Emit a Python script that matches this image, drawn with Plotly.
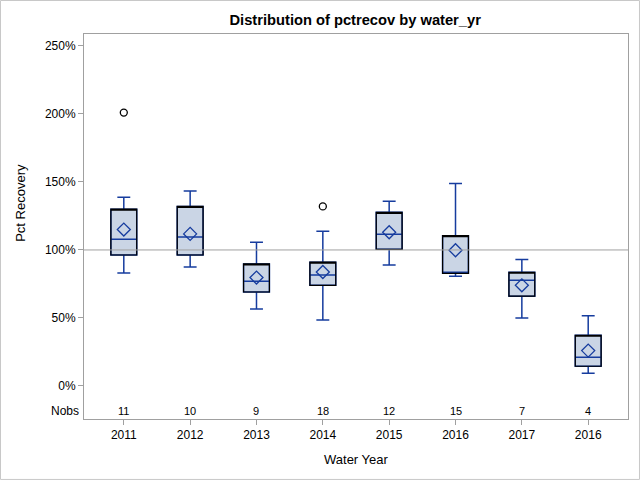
import plotly.graph_objects as go

# Data
year_labels = ["2011", "2012", "2013", "2014", "2015", "2016", "2017", "2016"]
nobs = [11, 10, 9, 18, 12, 15, 7, 4]
whisker_low = [83.0, 87.5, 56.5, 48.5, 89.0, 80.6, 50.0, 9.3]
q1 = [96.3, 96.3, 69.1, 74.0, 100.5, 82.8, 66.0, 14.5]
median = [107.8, 109.6, 77.0, 81.6, 111.5, 82.8, 77.7, 21.1]
q3 = [130.0, 132.0, 89.7, 91.0, 127.7, 110.5, 83.6, 37.3]
whisker_high = [138.7, 143.4, 105.6, 113.7, 135.8, 148.8, 92.9, 51.7]
means = [115.0, 111.8, 79.7, 83.8, 113.0, 99.8, 74.0, 26.0]
outlier_idx = [0, 3]
outlier_vals = [201.0, 132.0]
y_ticks = [0, 50, 100, 150, 200, 250]
reference_value = 100

pos = list(range(len(year_labels)))
BLUE = "#163C9E"
FILL = "#CAD5E5"
GRAY = "#A0A0A0"
FONT = "Liberation Sans, Arial, sans-serif"

fig = go.Figure()

# Blue box: fill, whiskers, median
fig.add_trace(go.Box(
    x=pos, q1=q1, median=median, q3=q3,
    lowerfence=whisker_low, upperfence=whisker_high,
    width=0.39, whiskerwidth=0.5,
    fillcolor=FILL, line=dict(color=BLUE, width=1.5),
    boxpoints=False, hoverinfo="skip", showlegend=False,
))
# Black outline of the box
fig.add_trace(go.Box(
    x=pos, q1=q1, median=q3, q3=q3,
    lowerfence=q1, upperfence=q3,
    width=0.39, whiskerwidth=0.5,
    fillcolor="rgba(0,0,0,0)", line=dict(color="black", width=1.2),
    boxpoints=False, hoverinfo="skip", showlegend=False,
))
# Means
fig.add_trace(go.Scatter(
    x=pos, y=means, mode="markers",
    marker=dict(symbol="diamond-open", size=10, color=BLUE, line=dict(width=1.3, color=BLUE)),
    hoverinfo="skip", showlegend=False,
))
# Outliers
fig.add_trace(go.Scatter(
    x=[pos[i] for i in outlier_idx], y=outlier_vals, mode="markers",
    marker=dict(symbol="circle-open", size=7, color="black", line=dict(width=1.3, color="black")),
    hoverinfo="skip", showlegend=False,
))

annotations = []
for p, n in zip(pos, nobs):
    annotations.append(dict(x=p, y=-18.4, xref="x", yref="y", text=str(n), showarrow=False,
                            font=dict(family=FONT, size=11, color="black")))
annotations.append(dict(x=0, y=-18.4, xref="paper", yref="y", text="Nobs", showarrow=False,
                        xanchor="right", xshift=-3, font=dict(family=FONT, size=12, color="black")))
annotations.append(dict(x=-0.118, y=0.561, xref="paper", yref="paper", text="Pct Recovery",
                        xanchor="center", yanchor="middle",
                        showarrow=False, textangle=-90, font=dict(family=FONT, size=13, color="black")))
annotations.append(dict(x=0.5, y=-0.104, xref="paper", yref="paper", text="Water Year",
                        xanchor="center", yanchor="middle",
                        showarrow=False, font=dict(family=FONT, size=13, color="black")))

fig.update_layout(
    width=640, height=480,
    margin=dict(l=84, r=12, t=34, b=61),
    paper_bgcolor="white", plot_bgcolor="white",
    title=dict(text="<b>Distribution of pctrecov by water_yr</b>", x=0.555, xanchor="center",
               y=0.958, yanchor="middle", font=dict(family=FONT, size=14.7, color="black")),
    xaxis=dict(
        range=[-0.6, 7.6], tickvals=pos, ticktext=year_labels,
        showgrid=False, zeroline=False, showline=True, linecolor=GRAY, linewidth=1, mirror=True,
        ticks="outside", ticklen=5, tickcolor=GRAY,
        tickfont=dict(family=FONT, size=12, color="black"),
    ),
    yaxis=dict(
        range=[-24.3, 258.8], tickvals=y_ticks, ticktext=[f"{v}%" for v in y_ticks],
        showgrid=False, zeroline=False, showline=True, linecolor=GRAY, linewidth=1, mirror=True,
        ticks="outside", ticklen=5, tickcolor=GRAY,
        tickfont=dict(family=FONT, size=12, color="black"),
    ),
    annotations=annotations,
    shapes=[
        dict(type="line", xref="paper", yref="y", x0=0, x1=1, y0=reference_value, y1=reference_value,
             line=dict(color=GRAY, width=1), layer="above"),
        dict(type="rect", xref="paper", yref="paper", x0=-0.1535, x1=1.0211, y0=-0.157, y1=1.087,
             line=dict(color="#C8C8C8", width=1), layer="below"),
    ],
)

fig.write_html("out.html", config={"displayModeBar": False},
               post_script="document.body.style.margin='0';")
